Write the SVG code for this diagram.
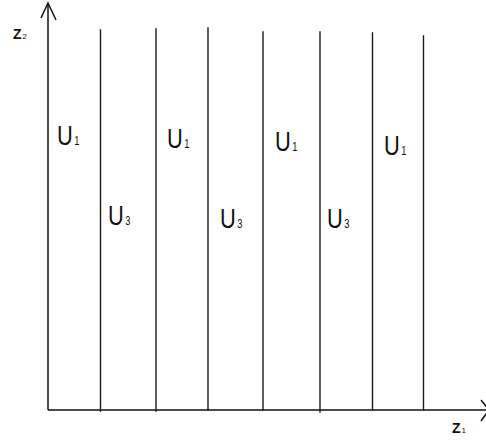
<svg xmlns="http://www.w3.org/2000/svg" width="486" height="440" viewBox="0 0 486 440">
<style>
.ln{stroke:#1a1a1a;stroke-width:1.4;fill:none;stroke-linecap:square}
.ax{stroke:#111;stroke-width:1.5;fill:none}
.u{font-family:"Liberation Sans",Arial,sans-serif;font-size:28px;fill:#111}
.s{font-size:12px}
.z{font-family:"Liberation Sans",Arial,sans-serif;font-size:14px;font-weight:bold;fill:#111}
.zs{font-size:8px;font-weight:normal}
</style>
<rect width="486" height="440" fill="#fff"/>
<g id="axes">
<line class="ax" x1="48" y1="3" x2="48" y2="410"/>
<polyline class="ax" points="41,18 48,3 56,20"/>
<line class="ax" x1="48" y1="410" x2="488" y2="410"/>
<polyline class="ax" points="481,400 489,410 481,421"/>
</g>
<g id="lines">
<line class="ln" x1="100.5" y1="30" x2="100.5" y2="411"/>
<line class="ln" x1="156" y1="29" x2="156" y2="411"/>
<line class="ln" x1="208" y1="28" x2="208" y2="410"/>
<line class="ln" x1="263" y1="32" x2="263" y2="410"/>
<line class="ln" x1="320" y1="32" x2="320" y2="412"/>
<line class="ln" x1="372.5" y1="33" x2="372.5" y2="410"/>
<line class="ln" x1="423.5" y1="36" x2="423.5" y2="410"/>
</g>
<g id="labels">
<text class="u" transform="translate(57,145) scale(0.78,1)">U<tspan class="s" dx="2">1</tspan></text>
<text class="u" transform="translate(167,148) scale(0.78,1)">U<tspan class="s" dx="2">1</tspan></text>
<text class="u" transform="translate(275,151) scale(0.78,1)">U<tspan class="s" dx="2">1</tspan></text>
<text class="u" transform="translate(384,155) scale(0.78,1)">U<tspan class="s" dx="2">1</tspan></text>
<text class="u" transform="translate(108,225) scale(0.78,1)">U<tspan class="s" dx="2">3</tspan></text>
<text class="u" transform="translate(220,228) scale(0.78,1)">U<tspan class="s" dx="2">3</tspan></text>
<text class="u" transform="translate(327,228) scale(0.78,1)">U<tspan class="s" dx="2">3</tspan></text>
<text class="z" x="13" y="39">Z<tspan class="zs" dx="1">2</tspan></text>
<text class="z" x="452" y="433">Z<tspan class="zs" dx="1">1</tspan></text>
</g>
</svg>
